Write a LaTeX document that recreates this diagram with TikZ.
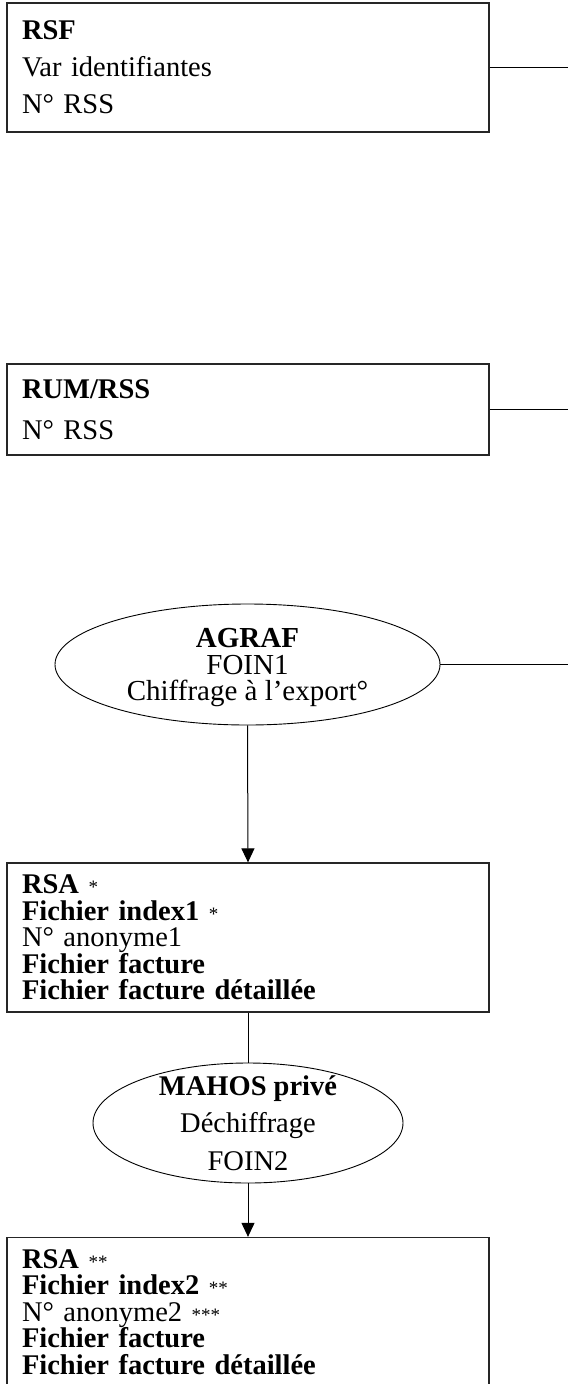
\documentclass[tikz,border=0pt]{standalone}
\usepackage{fontspec}
\setmainfont{Liberation Serif}
\usetikzlibrary{shapes.geometric,arrows.meta}
\newcommand{\etoile}[1]{{\fontsize{19}{19}\selectfont #1}}
\begin{document}
\begin{tikzpicture}[x=1pt,y=-1pt,
	boite/.style={draw=black!85, line width=1.3pt, text width=452pt, inner xsep=15pt, inner ysep=0pt, align=left},
	bulle/.style={ellipse, draw, line width=0.9pt, align=center, inner sep=0pt, text depth=0pt},
	fleche/.style={-{Triangle[width=13pt,length=14pt]}, line width=1pt},
	trait/.style={line width=1pt}]
	\clip (0,0) rectangle (568,1384);
	\fill[white] (0,0) rectangle (568,1384);
	\coordinate[](bord) at (568,0) ;
	
	% fichiers du haut
	\node[boite, minimum height=129pt, font=\fontsize{28.5}{37}\selectfont](rsf) at (248,67.5)
		{\textbf{RSF}\\Var identifiantes\\N° RSS};
	\node[boite, minimum height=91pt, font=\fontsize{28.5}{41.5}\selectfont](rum) at (248,409.5)
		{\textbf{RUM/RSS}\\N° RSS};
	\node[bulle, minimum width=385pt, minimum height=121pt, font=\fontsize{29}{26.5}\selectfont](agraf) at (247.5,664.5)
		{\textbf{AGRAF}\\FOIN1\\Chiffrage à l’export°};
	
	\draw[trait](rsf.east)--(rsf.east -| bord);
	\draw[trait](rum.east)--(rum.east -| bord);
	\draw[trait](agraf.east)--(agraf.east -| bord);
	
	% fichiers du bas
	\node[boite, minimum height=149pt, font=\fontsize{28.5}{26.5}\selectfont](rsa1) at (248,937.5)
		{\textbf{RSA} \etoile{*}\\\textbf{Fichier index1} \etoile{*}\\N° anonyme1\\\textbf{Fichier facture}\\\textbf{Fichier facture détaillée}};
	\node[bulle, minimum width=310pt, minimum height=120pt, inner ysep=-14pt, font=\fontsize{28.5}{37.5}\selectfont](mahos) at (248,1123)
		{\textbf{MAHOS privé}\\Déchiffrage\\FOIN2};
	\node[boite, minimum height=149pt, font=\fontsize{28.5}{26.5}\selectfont](rsa2) at (248,1312)
		{\textbf{RSA} \etoile{**}\\\textbf{Fichier index2} \etoile{**}\\N° anonyme2 \etoile{***}\\\textbf{Fichier facture}\\\textbf{Fichier facture détaillée}};
	
	\draw[fleche](agraf.south)--(rsa1.north);
	\draw[trait](rsa1.south)--(mahos.north);
	\draw[fleche](mahos.south)--(rsa2.north);
\end{tikzpicture}
\end{document}
